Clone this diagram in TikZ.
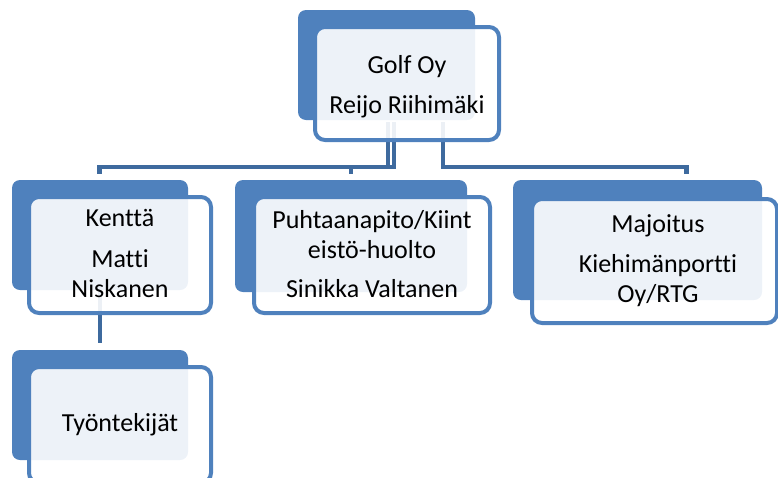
\documentclass[tikz,border=0pt]{standalone}
\usepackage{fontspec}
\setmainfont[Ligatures=NoCommon]{Carlito}
\definecolor{accent}{RGB}{79,129,189}
\definecolor{conn}{RGB}{62,106,158}
\tikzset{
  backbox/.style={rectangle, rounded corners=8pt, fill=accent, draw=none, inner sep=0pt, outer sep=0pt},
  frontbox/.style={rectangle, rounded corners=10pt, fill=white, fill opacity=0.9, draw=accent, draw opacity=1, line width=4pt, inner sep=0pt, outer sep=0pt},
  label/.style={anchor=base, align=center, inner sep=0pt, font=\fontsize{26}{30}\selectfont, text=black},
  link/.style={draw=conn, line width=4.5pt, line join=miter, line cap=butt}
}
\begin{document}
\begin{tikzpicture}[x=1pt,y=-1pt]
\useasboundingbox (0,0) rectangle (778,477);
\clip (0,0) rectangle (778,477);
% connector anchor points
\coordinate (p1) at (388,122);
\coordinate (p2) at (394,122);
\coordinate (p3) at (443,122);
\coordinate (c1) at (99.5,174);
\coordinate (c2) at (351,174);
\coordinate (c3) at (686.5,174);
\coordinate (k1) at (100,292);
\coordinate (t1) at (100,343);
% connectors (beneath boxes)
\draw[link] (p1) |- (99.5,167) -- (c1);
\draw[link] (p2) |- (351,167) -- (c2);
\draw[link] (p3) |- (686.5,167) -- (c3);
\draw[link] (k1) -- (t1);
% Golf Oy
\node[backbox, minimum width=177pt, minimum height=110pt] (golfB) at (386.5,65) {};
\node[frontbox, minimum width=184pt, minimum height=113pt] (golf) at (407,83.5) {};
\node[label] (golfT) at (407,113) {Golf Oy\\[10pt]Reijo Riihimäki};
% Kentta
\node[backbox, minimum width=176pt, minimum height=110pt] (kenB) at (100,235) {};
\node[frontbox, minimum width=182pt, minimum height=116pt] (ken) at (120,255) {};
\node[label] (kenT) at (120,297) {Kenttä\\[11pt]Matti\\Niskanen};
% Puhtaanapito
\node[backbox, minimum width=232pt, minimum height=112pt] (puhB) at (351,236) {};
\node[frontbox, minimum width=236pt, minimum height=116pt] (puh) at (372,255) {};
\node[label] (puhT) at (372,297) {Puhtaanapito/Kiint\\eistö-huolto\\[9pt]Sinikka Valtanen};
% Majoitus
\node[backbox, minimum width=249pt, minimum height=120pt] (majB) at (637.5,240) {};
\node[frontbox, minimum width=245pt, minimum height=124pt] (maj) at (654.5,261) {};
\node[label] (majT) at (658,302) {Majoitus\\[10pt]Kiehimänportti\\Oy/RTG};
% Tyontekijat
\node[backbox, minimum width=176pt, minimum height=110pt] (tyoB) at (100,405) {};
\node[frontbox, minimum width=182pt, minimum height=116pt] (tyo) at (120,425) {};
\node[label] (tyoT) at (120,431) {Työntekijät};
\end{tikzpicture}
\end{document}
